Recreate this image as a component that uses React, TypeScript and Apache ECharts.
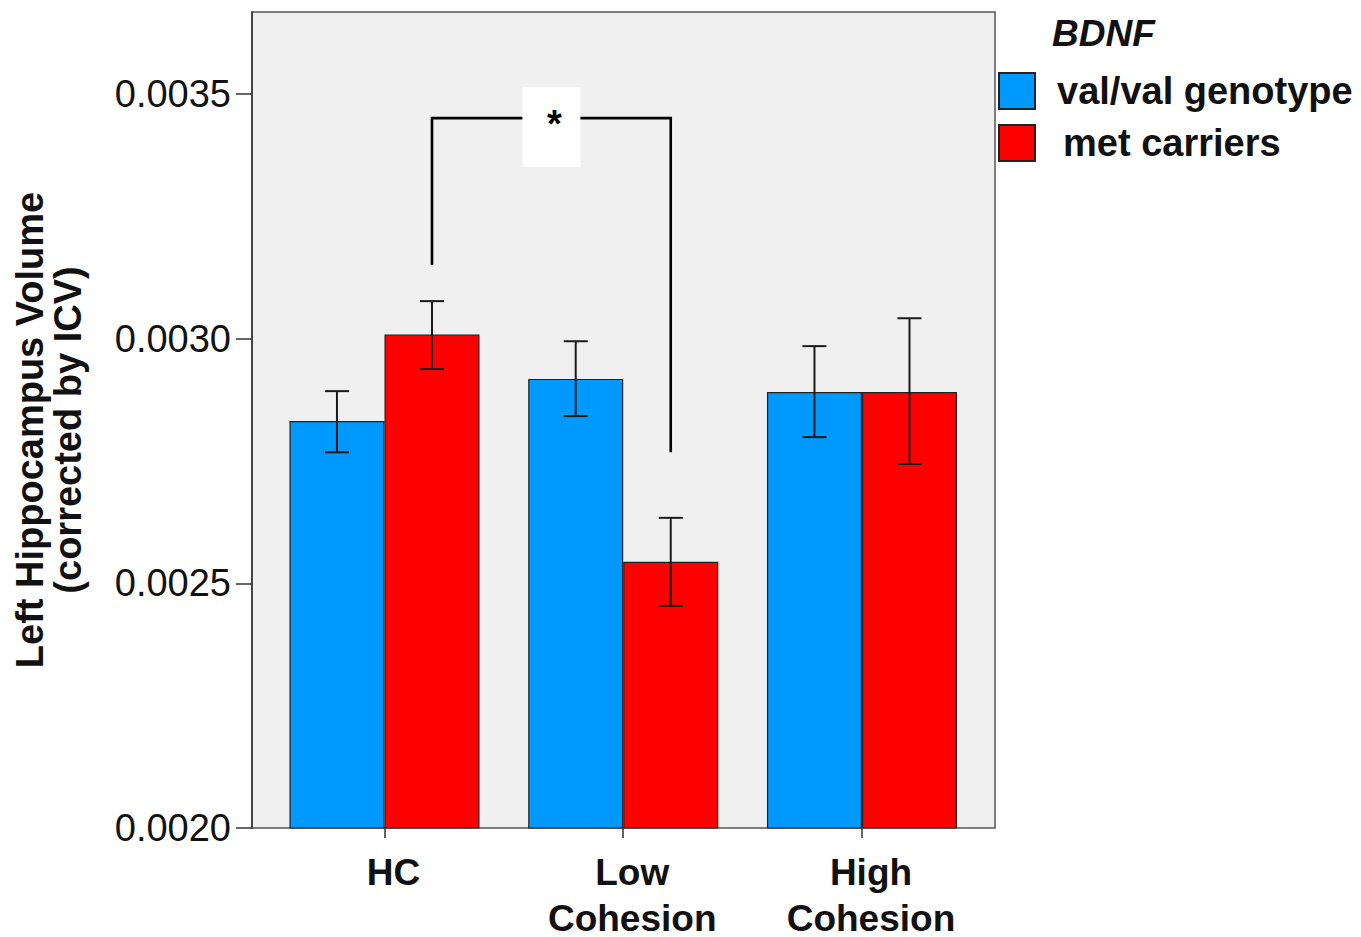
import React, { useEffect, useRef } from "react";
import * as echarts from "echarts";

const categories = ["HC", "Low\nCohesion", "High\nCohesion"];
const seriesNames = ["val/val genotype", "met carriers"];
const valValMeans = [0.002832, 0.002918, 0.002891];
const valValLower = [0.002768, 0.002842, 0.002799];
const valValUpper = [0.002893, 0.002995, 0.002985];
const metMeans = [0.003009, 0.002544, 0.002891];
const metLower = [0.002938, 0.002454, 0.002744];
const metUpper = [0.003077, 0.002634, 0.003042];
const yTicks = [0.002, 0.0025, 0.003, 0.0035];
const Y_MIN = 0.002;
const Y_MAX = 0.003668;
// significance bracket: from HC met carriers to Low Cohesion met carriers
const sigFrom = 0;
const sigTo = 1;
const sigTop = 0.003451;
const sigLeftEnd = 0.003151;
const sigRightEnd = 0.002768;
const sigBoxTop = 0.003514;
const sigBoxBottom = 0.003351;
const sigLabel = "*";

const BLUE = "#0099FF";
const RED = "#FF0000";
const BAR_FRAC = 0.398;
const FONT = "'Liberation Sans', Arial, Helvetica, sans-serif";

function errorSeries(name: string, lower: number[], upper: number[], sign: number) {
  return {
    type: "custom",
    name: name + " err",
    xAxisIndex: 1,
    yAxisIndex: 1,
    z: 5,
    silent: true,
    data: lower.map((l, i) => [i, l, upper[i]]),
    renderItem: (params: any, api: any) => {
      const i = api.value(0);
      const lo = api.coord([i, api.value(1)]);
      const hi = api.coord([i, api.value(2)]);
      const band = api.size([1, 0])[0];
      const x = lo[0] + (sign * band * BAR_FRAC) / 2;
      const cap = 12;
      const st = { stroke: "#1a1a1a", lineWidth: 2 };
      return {
        type: "group",
        children: [
          { type: "line", shape: { x1: x, y1: hi[1], x2: x, y2: lo[1] }, style: st },
          { type: "line", shape: { x1: x - cap, y1: hi[1], x2: x + cap, y2: hi[1] }, style: st },
          { type: "line", shape: { x1: x - cap, y1: lo[1], x2: x + cap, y2: lo[1] }, style: st },
        ],
      };
    },
  };
}

export default function App() {
  const ref = useRef<HTMLDivElement>(null);
  useEffect(() => {
    if (!ref.current) return;
    const chart = echarts.init(ref.current, null, { renderer: "svg" });
    const gridTop = 12;
    const gridHeight = 816;
    chart.setOption({
      animation: false,
      backgroundColor: "#ffffff",
      title: {
        text: "BDNF",
        left: 1052,
        top: 15,
        padding: 0,
        textStyle: { fontFamily: FONT, fontSize: 37, fontWeight: "bold", fontStyle: "italic", color: "#111" },
      },
      legend: {
        data: seriesNames,
        orient: "vertical",
        left: 998,
        top: 72,
        padding: 0,
        itemWidth: 36,
        itemHeight: 36,
        itemGap: 14,
        icon: "rect",
        formatter: (name: string) => (name === seriesNames[1] ? "{pad|}" + name : name),
        textStyle: {
          fontFamily: FONT,
          fontSize: 38,
          fontWeight: "bold",
          color: "#111",
          padding: [0, 0, 0, 17],
          rich: { pad: { width: 6, fontSize: 38 } },
        },
      },
      grid: [
        {
          left: 252,
          top: gridTop,
          width: 743,
          height: gridHeight,
          outerBoundsMode: "none",
          show: true,
          backgroundColor: "#F0F0F0",
          borderColor: "#555",
          borderWidth: 1.5,
        },
        { left: 265.1, top: gridTop, width: 716.25, height: gridHeight, outerBoundsMode: "none" },
      ],
      xAxis: [
        { gridIndex: 0, type: "value", show: false, min: 0, max: 1 },
        {
          gridIndex: 1,
          type: "category",
          data: categories,
          boundaryGap: true,
          axisLine: { show: false },
          axisTick: { show: true, alignWithLabel: true, length: 10, lineStyle: { color: "#333", width: 1.5 } },
          axisLabel: {
            fontFamily: FONT,
            fontSize: 37,
            fontWeight: "bold",
            color: "#111",
            lineHeight: 46,
            margin: 21,
            padding: [0, 0, 0, 18],
          },
        },
      ],
      yAxis: [
        {
          gridIndex: 0,
          type: "value",
          min: Y_MIN,
          max: Y_MAX,
          interval: 0.0005,
          splitLine: { show: false },
          axisLine: { show: true, lineStyle: { color: "#333", width: 1.5 } },
          axisTick: { show: true, length: 16, customValues: yTicks, lineStyle: { color: "#333", width: 1.5 } },
          axisLabel: {
            customValues: yTicks,
            formatter: (v: number) => v.toFixed(4),
            fontFamily: FONT,
            fontSize: 38,
            color: "#111",
            margin: 21,
          },
          name: "Left Hippocampus Volume\n(corrected by ICV)",
          nameLocation: "middle",
          nameRotate: 90,
          nameGap: 165,
          nameTextStyle: {
            fontFamily: FONT,
            fontSize: 38,
            fontWeight: "bold",
            color: "#111",
            lineHeight: 38,
            padding: [0, 20, 0, 0],
          },
        },
        { gridIndex: 1, type: "value", min: Y_MIN, max: Y_MAX, show: false },
      ],
      series: [
        {
          type: "bar",
          name: seriesNames[0],
          xAxisIndex: 1,
          yAxisIndex: 1,
          data: valValMeans,
          barWidth: BAR_FRAC * 100 + "%",
          barGap: "0%",
          itemStyle: { color: BLUE, borderColor: "#222", borderWidth: 1.2 },
        },
        {
          type: "bar",
          name: seriesNames[1],
          xAxisIndex: 1,
          yAxisIndex: 1,
          data: metMeans,
          barWidth: BAR_FRAC * 100 + "%",
          barGap: "0%",
          itemStyle: { color: RED, borderColor: "#222", borderWidth: 1.2 },
        },
        errorSeries(seriesNames[0], valValLower, valValUpper, -1),
        errorSeries(seriesNames[1], metLower, metUpper, 1),
        {
          type: "custom",
          name: "significance",
          xAxisIndex: 1,
          yAxisIndex: 1,
          z: 6,
          silent: true,
          data: [[sigFrom, sigTo, sigTop, sigLeftEnd, sigRightEnd, sigBoxTop, sigBoxBottom]],
          renderItem: (params: any, api: any) => {
            const band = api.size([1, 0])[0];
            const off = (band * BAR_FRAC) / 2;
            const xL = api.coord([api.value(0), api.value(2)])[0] + off;
            const xR = api.coord([api.value(1), api.value(2)])[0] + off;
            const yTop = api.coord([api.value(0), api.value(2)])[1];
            const yL = api.coord([api.value(0), api.value(3)])[1];
            const yR = api.coord([api.value(1), api.value(4)])[1];
            const bT = api.coord([api.value(0), api.value(5)])[1];
            const bB = api.coord([api.value(0), api.value(6)])[1];
            const cx = (xL + xR) / 2;
            const boxW = 58;
            return {
              type: "group",
              children: [
                {
                  type: "polyline",
                  shape: { points: [[xL, yL], [xL, yTop], [xR, yTop], [xR, yR]] },
                  style: { stroke: "#000", lineWidth: 2.6, fill: "none" },
                },
                {
                  type: "rect",
                  shape: { x: cx - boxW / 2, y: bT, width: boxW, height: bB - bT },
                  style: { fill: "#ffffff" },
                },
                {
                  type: "text",
                  x: cx + 3,
                  y: yTop + 6,
                  style: {
                    text: sigLabel,
                    fontFamily: FONT,
                    fontSize: 38,
                    fontWeight: "bold",
                    fill: "#000",
                    align: "center",
                    verticalAlign: "middle",
                  },
                },
              ],
            };
          },
        },
      ],
    });
    return () => chart.dispose();
  }, []);
  return (
    <div
      ref={ref}
      style={{ position: "absolute", left: 0, top: 0, width: 1361, height: 937, background: "#fff" }}
    />
  );
}
